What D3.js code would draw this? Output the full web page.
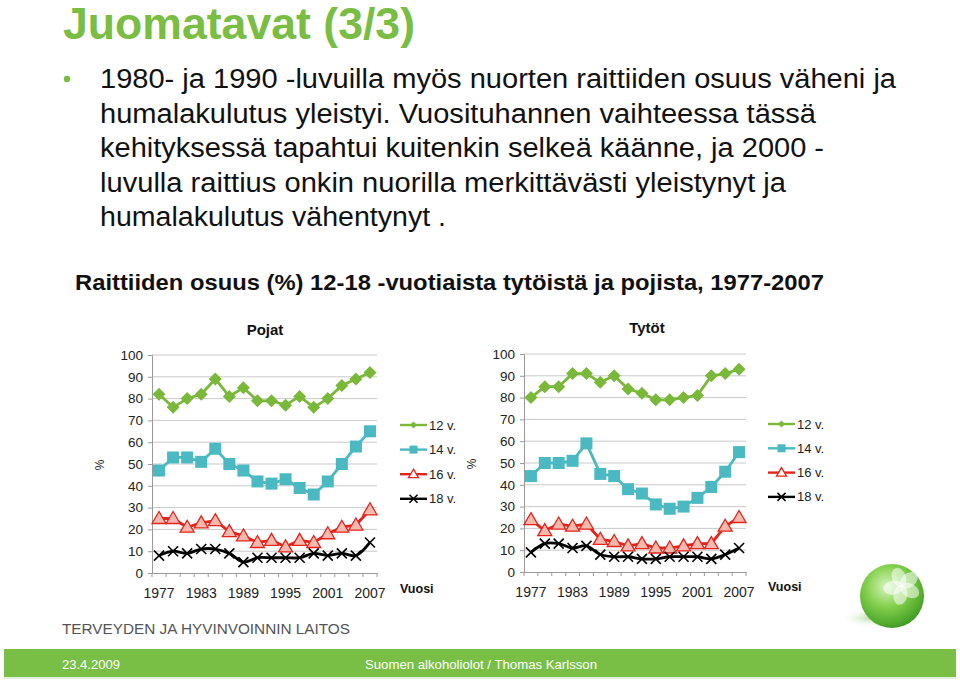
<!DOCTYPE html>
<html><head><meta charset="utf-8">
<script src="https://cdn.jsdelivr.net/npm/d3@7"></script>
<style>
html,body{margin:0;padding:0;background:#fff;}
svg{display:block;font-family:"Liberation Sans",Arial,sans-serif;}
</style></head>
<body>
<svg id="c" width="960" height="681"></svg>
<script>
// ---- data ----
const years = [1977,1979,1981,1983,1985,1987,1989,1991,1993,1995,1997,1999,2001,2003,2005,2007];
const tickYears = [1977,1983,1989,1995,2001,2007];
const yTicks = [0,10,20,30,40,50,60,70,80,90,100];
const seriesNames = ["12 v.","14 v.","16 v.","18 v."];
const pojat12 = [82,76,80,82,89,81,85,79,79,77,81,76,80,86,89,92];
const pojat14 = [47,53,53,51,57,50,47,42,41,43,39,36,42,50,58,65];
const pojat16 = [25,25,21,23,24,19,17,14,15,12,15,14,18,21,22,29];
const pojat18 = [8,10,9,11,11,9,5,7,7,7,7,9,8,9,8,14];
const tytot12 = [80,85,85,91,91,87,90,84,82,79,79,80,81,90,91,93];
const tytot14 = [44,50,50,51,59,45,44,38,36,31,29,30,34,39,46,55];
const tytot16 = [24,19,22,21,22,15,14,12,13,11,11,12,13,13,21,25];
const tytot18 = [9,13,13,11,12,8,7,7,6,6,7,7,7,6,8,11];
const bulletLines = [
 "1980- ja 1990 -luvuilla myös nuorten raittiiden osuus väheni ja",
 "humalakulutus yleistyi. Vuosituhannen vaihteessa tässä",
 "kehityksessä tapahtui kuitenkin selkeä käänne, ja 2000 -",
 "luvulla raittius onkin nuorilla merkittävästi yleistynyt ja",
 "humalakulutus vähentynyt ."
];
const bulletWidths = [796,716,724,686,346];

const svg = d3.select("#c");
const GREEN = "#79bd42";
const styles = [
  {stroke:"#7ab83a", shape:"diamond", fill:"#7ab83a"},
  {stroke:"#4bb9c1", shape:"square", fill:"#4bb9c1"},
  {stroke:"#e3231c", shape:"triangle", fill:"#f6b9ad"},
  {stroke:"#000000", shape:"x", fill:"none"}
];

// ---- header ----
svg.append("text").attr("x",63).attr("y",39).attr("fill",GREEN)
  .attr("font-size",44).attr("font-weight","bold")
  .attr("textLength",352).attr("lengthAdjust","spacingAndGlyphs").text("Juomatavat (3/3)");
svg.append("circle").attr("cx",67).attr("cy",79).attr("r",3.2).attr("fill",GREEN);
bulletLines.forEach((t,i)=>{
  svg.append("text").attr("x",100).attr("y",88+i*34.6).attr("font-size",27)
    .attr("textLength",bulletWidths[i]).attr("lengthAdjust","spacingAndGlyphs")
    .attr("fill","#111").text(t);
});
svg.append("text").attr("x",75).attr("y",290).attr("font-size",21.5).attr("font-weight","bold")
  .attr("textLength",749).attr("lengthAdjust","spacingAndGlyphs").attr("fill","#111")
  .text("Raittiiden osuus (%) 12-18 -vuotiaista tytöistä ja pojista, 1977-2007");

// ---- marker drawing ----
function marker(g, shape, x, y, st){
  if(shape==="diamond"){
    g.append("path").attr("d",`M${x},${y-6.5}L${x+6.5},${y}L${x},${y+6.5}L${x-6.5},${y}Z`).attr("fill",st.fill);
  } else if(shape==="square"){
    g.append("rect").attr("x",x-6).attr("y",y-6).attr("width",12).attr("height",12).attr("fill",st.fill);
  } else if(shape==="triangle"){
    g.append("path").attr("d",`M${x},${y-7}L${x+7},${y+5}L${x-7},${y+5}Z`).attr("fill",st.fill)
      .attr("stroke",st.stroke).attr("stroke-width",1.3);
  } else {
    g.append("path").attr("d",`M${x-5},${y-5}L${x+5},${y+5}M${x-5},${y+5}L${x+5},${y-5}`)
      .attr("stroke",st.stroke).attr("stroke-width",1.6).attr("fill","none");
  }
}

function chart(opt){
  const g = svg.append("g");
  const x = d3.scaleBand().domain(years).range([opt.x0,opt.x1]);
  const y = d3.scaleLinear().domain([0,100]).range([opt.y0,opt.y1]);
  const cx = d => x(d)+x.bandwidth()/2;
  // gridlines
  g.selectAll(".grid").data(yTicks.filter(v=>v>0)).enter().append("line")
    .attr("x1",opt.x0).attr("x2",opt.x1).attr("y1",d=>y(d)).attr("y2",d=>y(d))
    .attr("stroke","#c9c9c9").attr("stroke-width",1);
  // y axis
  const ya = g.append("g").attr("transform",`translate(${opt.x0},0)`)
    .call(d3.axisLeft(y).tickValues(yTicks).tickSize(4).tickPadding(5));
  ya.select(".domain").attr("stroke","#9a9a9a");
  ya.selectAll(".tick line").attr("stroke","#9a9a9a");
  ya.selectAll("text").attr("font-size",13.5).attr("fill","#222").attr("font-family","Liberation Sans, Arial");
  // x axis
  const xa = g.append("g").attr("transform",`translate(0,${opt.y0})`)
    .call(d3.axisBottom(x).tickValues([]).tickSizeOuter(0));
  xa.select(".domain").attr("stroke","#9a9a9a");
  g.selectAll(".xt").data(years.concat([null])).enter().append("line")
    .attr("x1",(d,i)=>opt.x0+i*x.bandwidth()).attr("x2",(d,i)=>opt.x0+i*x.bandwidth())
    .attr("y1",opt.y0).attr("y2",opt.y0+4).attr("stroke","#9a9a9a");
  g.selectAll(".xl").data(tickYears).enter().append("text")
    .attr("x",d=>cx(d)).attr("y",opt.y0+25).attr("text-anchor","middle")
    .attr("font-size",14).attr("fill","#222").text(d=>d);
  // series
  opt.data.forEach((vals,si)=>{
    const st = styles[si];
    const line = d3.line().x((d,i)=>cx(years[i])).y(d=>y(d))
      .curve(si===3 ? d3.curveCatmullRom.alpha(0.5) : d3.curveLinear);
    g.append("path").datum(vals).attr("d",line).attr("fill","none")
      .attr("stroke",st.stroke).attr("stroke-width",2.8).attr("stroke-linejoin","round");
    vals.forEach((v,i)=>marker(g, st.shape, cx(years[i]), y(v), st));
  });
  // title
  g.append("text").attr("x",opt.tx).attr("y",opt.ty).attr("text-anchor","middle")
    .attr("font-size",15).attr("font-weight","bold").attr("fill","#111").text(opt.title);
  // % label
  g.append("text").attr("transform",`translate(${opt.px},${opt.py}) rotate(-90)`)
    .attr("text-anchor","middle").attr("font-size",12).attr("fill","#222").text("%");
  // legend
  seriesNames.forEach((n,i)=>{
    const ly = opt.ly0 + i*opt.ldy;
    const st = styles[i];
    g.append("line").attr("x1",opt.lx).attr("x2",opt.lx+27).attr("y1",ly).attr("y2",ly)
      .attr("stroke",st.stroke).attr("stroke-width",2.4);
    const mx = opt.lx+13.5;
    if(st.shape==="diamond"){ g.append("path").attr("d",`M${mx},${ly-3.5}L${mx+3.5},${ly}L${mx},${ly+3.5}L${mx-3.5},${ly}Z`).attr("fill",st.fill); }
    else if(st.shape==="square"){ g.append("rect").attr("x",mx-4).attr("y",ly-4).attr("width",8).attr("height",8).attr("fill",st.fill); }
    else if(st.shape==="triangle"){ g.append("path").attr("d",`M${mx},${ly-5}L${mx+5},${ly+3.5}L${mx-5},${ly+3.5}Z`).attr("fill","#fff").attr("stroke",st.stroke).attr("stroke-width",1.3); }
    else { g.append("path").attr("d",`M${mx-4},${ly-4}L${mx+4},${ly+4}M${mx-4},${ly+4}L${mx+4},${ly-4}`).attr("stroke","#000").attr("stroke-width",1.5); }
    g.append("text").attr("x",opt.lx+29).attr("y",ly+4.5).attr("font-size",13).attr("fill","#222").text(n);
  });
  g.append("text").attr("x",opt.vx).attr("y",opt.vy).attr("font-size",12.5).attr("font-weight","bold")
    .attr("fill","#111").text("Vuosi");
}

chart({x0:152,x1:377,y0:573,y1:355,title:"Pojat",tx:265,ty:335,px:104,py:465,
  lx:400,ly0:425,ldy:24.6,vx:400,vy:593,
  data:[pojat12,pojat14,pojat16,pojat18]});
chart({x0:524,x1:746,y0:572,y1:354,title:"Tytöt",tx:647,ty:333,px:476,py:464,
  lx:768,ly0:424,ldy:24.3,vx:768,vy:591,
  data:[tytot12,tytot14,tytot16,tytot18]});

// ---- footer ----
svg.append("text").attr("x",62).attr("y",634).attr("font-size",15.5).attr("fill","#555")
  .attr("textLength",288).attr("lengthAdjust","spacingAndGlyphs").text("TERVEYDEN JA HYVINVOINNIN LAITOS");
svg.append("rect").attr("x",4).attr("y",649).attr("width",952).attr("height",28).attr("fill","#79bf45");
svg.append("line").attr("x1",4).attr("x2",956).attr("y1",678).attr("y2",678).attr("stroke","#c8dcb8");
svg.append("text").attr("x",62).attr("y",669).attr("font-size",13).attr("fill","#fff")
  .attr("textLength",58).attr("lengthAdjust","spacingAndGlyphs").text("23.4.2009");
svg.append("text").attr("x",365).attr("y",669).attr("font-size",13).attr("fill","#fff")
  .attr("textLength",232).attr("lengthAdjust","spacingAndGlyphs").text("Suomen alkoholiolot / Thomas Karlsson");

// ---- logo sphere ----
const defs = svg.append("defs");
const rg = defs.append("radialGradient").attr("id","sph").attr("cx","0.42").attr("cy","0.35").attr("r","0.7");
rg.append("stop").attr("offset","0").attr("stop-color","#d8f5c0");
rg.append("stop").attr("offset","0.45").attr("stop-color","#86d14f");
rg.append("stop").attr("offset","0.85").attr("stop-color","#4fa82a");
rg.append("stop").attr("offset","1").attr("stop-color","#3b8f1f");
const sh = defs.append("radialGradient").attr("id","shd");
sh.append("stop").attr("offset","0").attr("stop-color","#9cd27a").attr("stop-opacity",0.7);
sh.append("stop").attr("offset","1").attr("stop-color","#ffffff").attr("stop-opacity",0);
svg.append("ellipse").attr("cx",870).attr("cy",618).attr("rx",30).attr("ry",10).attr("fill","url(#shd)");
svg.append("circle").attr("cx",892).attr("cy",596).attr("r",32).attr("fill","url(#sph)");
[-20,50,120,190,260].forEach(a=>{
  svg.append("ellipse").attr("cx",0).attr("cy",-9).attr("rx",7).attr("ry",10)
    .attr("transform",`translate(902,586) rotate(${a})`)
    .attr("fill","#ffffff").attr("fill-opacity",0.55);
});
</script>
</body></html>
